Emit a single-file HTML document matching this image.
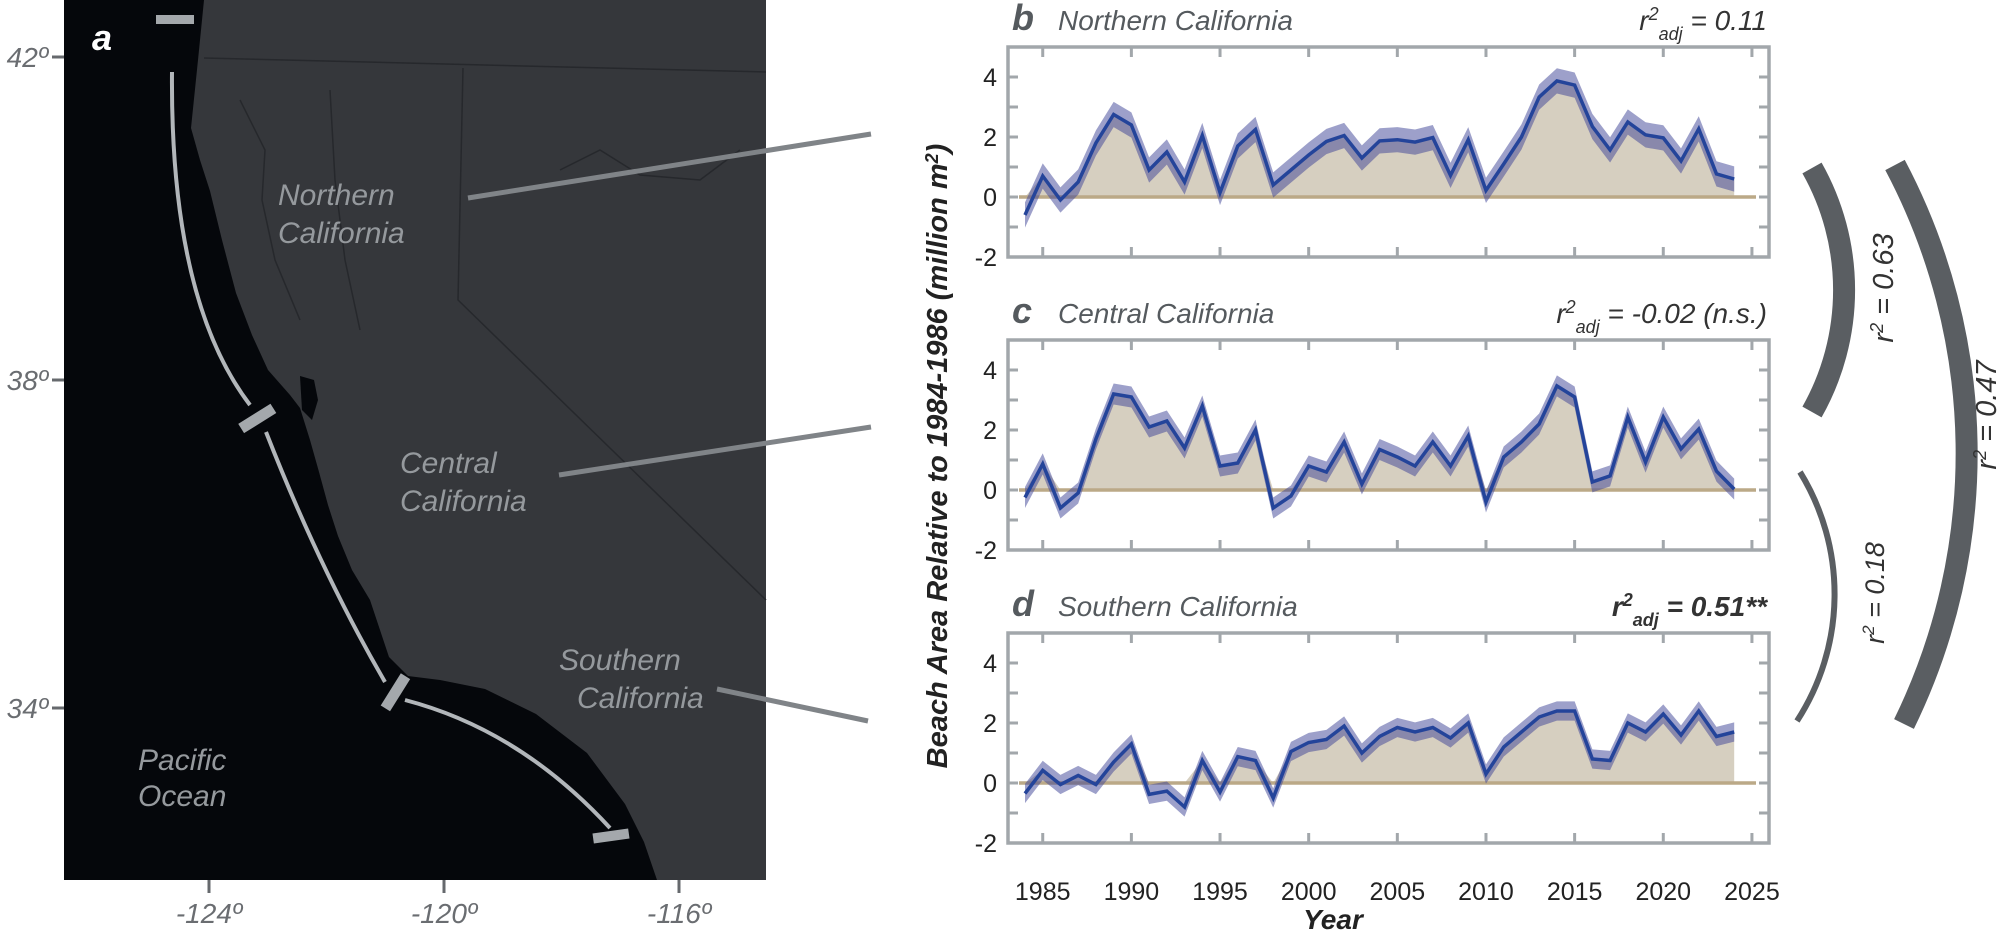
<!DOCTYPE html>
<html><head><meta charset="utf-8"><style>
html,body{margin:0;padding:0;background:#fff;}
svg{display:block;font-family:"Liberation Sans",Arial,sans-serif;}
</style></head><body>
<svg id="s" width="2000" height="931" viewBox="0 0 2000 931" xmlns="http://www.w3.org/2000/svg">
<!-- MAP -->
<rect x="64" y="0" width="702" height="880" fill="#05070b"/>
<path d="M204,0 L198,60 L191,128 L200,160 L210,191 L222,240 L236,293 L252,335 L268,370 L290,395 L300,408 L310,440 L319,472 L328,505 L338,536 L352,570 L370,600 L380,630 L389,657 L408,676 L440,680 L485,689 L536,714 L587,753 L625,804 L644,842 L657,880 L766,880 L766,0 Z" fill="#35373b"/>
<path d="M300,376 L314,380 L318,400 L312,420 L302,410 Z" fill="#05070b"/>
<g fill="none" stroke="#26282c" stroke-width="1.5">
<path d="M204,58 L766,72"/><path d="M463,68 L458,300 L766,600"/>
<path d="M240,100 L265,150 L262,200 L275,260 L300,320"/>
<path d="M330,90 L335,180 L345,260 L360,330"/>
<path d="M560,170 L600,150 L640,175 L700,180 L740,150"/>
</g>
<text x="92" y="50" font-size="36" font-weight="bold" font-style="italic" fill="#fff">a</text>
<g font-size="30" font-style="italic" fill="#95999d">
<text x="278" y="205">Northern</text><text x="278" y="243">California</text>
<text x="400" y="473">Central</text><text x="400" y="511">California</text>
<text x="559" y="670">Southern</text><text x="577" y="708">California</text>
<text x="138" y="770">Pacific</text><text x="138" y="806">Ocean</text>
</g>
<g fill="none" stroke="#b2b6ba" stroke-width="4">
<path d="M172,72 Q170,300 250,405"/>
<path d="M266,432 Q320,570 385,682"/>
<path d="M405,700 Q520,730 610,828"/>
</g>
<g fill="#a4a8ac">
<rect x="156" y="15" width="38" height="9"/>
<rect x="238" y="413" width="38" height="11" transform="rotate(-32 257 418)"/>
<rect x="376" y="687" width="38" height="11" transform="rotate(-58 395 692)"/>
<rect x="593" y="831" width="36" height="10" transform="rotate(-8 611 836)"/>
</g>
<g stroke="#808488" stroke-width="5">
<line x1="468" y1="198" x2="871" y2="134"/>
<line x1="559" y1="475" x2="871" y2="427"/>
<line x1="717" y1="689" x2="868" y2="721"/>
</g>
<g stroke="#66696d" stroke-width="3">
<line x1="52" y1="57" x2="64" y2="57"/><line x1="52" y1="380" x2="64" y2="380"/><line x1="52" y1="708" x2="64" y2="708"/>
<line x1="209" y1="880" x2="209" y2="893"/><line x1="444" y1="880" x2="444" y2="893"/><line x1="679" y1="880" x2="679" y2="893"/>
</g>
<g font-size="28" font-style="italic" fill="#6a6d71">
<text x="48" y="67" text-anchor="end">42º</text>
<text x="48" y="390" text-anchor="end">38º</text>
<text x="48" y="718" text-anchor="end">34º</text>
<text x="209" y="923" text-anchor="middle">-124º</text>
<text x="444" y="923" text-anchor="middle">-120º</text>
<text x="679" y="923" text-anchor="middle">-116º</text>
</g>
<!-- titles -->
<g fill="#555a5e" font-style="italic">
<text x="1012" y="30" font-size="36" font-weight="bold">b</text>
<text x="1058" y="30" font-size="28">Northern California</text>
<text x="1012" y="323" font-size="36" font-weight="bold">c</text>
<text x="1058" y="323" font-size="28">Central California</text>
<text x="1012" y="616" font-size="36" font-weight="bold">d</text>
<text x="1058" y="616" font-size="28">Southern California</text>
</g>
<g fill="#333" font-style="italic" font-size="28" text-anchor="end">
<text x="1767" y="30">r<tspan dy="-10" font-size="18">2</tspan><tspan dy="20" font-size="18">adj</tspan><tspan dy="-10"> = 0.11</tspan></text>
<text x="1767" y="323">r<tspan dy="-10" font-size="18">2</tspan><tspan dy="20" font-size="18">adj</tspan><tspan dy="-10"> = -0.02 (n.s.)</tspan></text>
<text x="1767" y="616" font-weight="bold">r<tspan dy="-10" font-size="18">2</tspan><tspan dy="20" font-size="18">adj</tspan><tspan dy="-10"> = 0.51**</tspan></text>
</g>
<g id="charts"></g>
<text transform="translate(947,456) rotate(-90)" text-anchor="middle" font-size="29" font-weight="bold" font-style="italic" fill="#222">Beach Area Relative to 1984-1986  (million m<tspan dy="-9" font-size="18">2</tspan><tspan dy="9">)</tspan></text>
<text x="1333" y="929" text-anchor="middle" font-size="28" font-weight="bold" font-style="italic" fill="#222">Year</text>
<!-- arcs -->
<g fill="none" stroke="#5a5e62">
<path d="M1812,168 A248,248 0 0 1 1812,412" stroke-width="22"/>
<path d="M1895,165 A616,616 0 0 1 1904,724" stroke-width="22"/>
<path d="M1800,472 A233,233 0 0 1 1797,721" stroke-width="6"/>
</g>
<g fill="#333" font-style="italic" font-size="29" text-anchor="middle">
<text transform="translate(1893,288) rotate(-90)">r<tspan dy="-10" font-size="18">2</tspan><tspan dy="10"> = 0.63</tspan></text>
<text transform="translate(1996,415) rotate(-90)">r<tspan dy="-10" font-size="18">2</tspan><tspan dy="10"> = 0.47</tspan></text>
<text transform="translate(1884,593) rotate(-90)" font-size="27">r<tspan dy="-10" font-size="17">2</tspan><tspan dy="10"> = 0.18</tspan></text>
</g>
</svg>
<script>
var D=[
[-0.6,0.7,-0.1,0.5,1.8,2.75,2.4,0.9,1.5,0.5,2.05,0.15,1.7,2.25,0.4,0.9,1.4,1.85,2.05,1.3,1.87,1.91,1.83,1.98,0.72,1.91,0.22,1.1,2.0,3.33,3.87,3.73,2.35,1.57,2.5,2.07,1.97,1.2,2.27,0.77,0.6],
[-0.25,0.87,-0.6,-0.1,1.7,3.2,3.1,2.1,2.3,1.4,2.8,0.8,0.9,2.0,-0.6,-0.2,0.8,0.6,1.6,0.2,1.35,1.1,0.8,1.6,0.8,1.8,-0.4,1.1,1.6,2.2,3.47,3.1,0.27,0.47,2.43,0.93,2.43,1.37,2.03,0.63,0.03],
[-0.35,0.42,-0.05,0.25,-0.05,0.7,1.3,-0.38,-0.27,-0.8,0.75,-0.3,0.88,0.75,-0.5,1.05,1.35,1.45,1.9,1.0,1.55,1.85,1.7,1.85,1.5,2.0,0.3,1.2,1.7,2.2,2.4,2.4,0.8,0.75,2.0,1.7,2.3,1.6,2.4,1.55,1.7]];
var W=[0.42,0.35,0.32],T=[47,340,633],h='';
function X(i){return 1025+i*17.73;}
for(var p=0;p<3;p++){var t=T[p];function Y(v){return t+(5-v)*30;}
var d=D[p],n=d.length,fill='M'+X(0)+','+Y(0),up='',lo='',ln='';
for(var i=0;i<n;i++){fill+=' L'+X(i)+','+Y(Math.max(0,d[i]));up+=(i?' L':'M')+X(i)+','+Y(d[i]+W[p]);ln+=(i?' L':'M')+X(i)+','+Y(d[i]);}
for(var i=n-1;i>=0;i--)lo+=' L'+X(i)+','+Y(d[i]-W[p]);
fill+=' L'+X(n-1)+','+Y(0)+'Z';
h+='<path d="'+fill+'" fill="#d6cfc0"/>';
h+='<line x1="1019" y1="'+Y(0)+'" x2="1756" y2="'+Y(0)+'" stroke="#bba987" stroke-width="3.5"/>';
h+='<path d="'+up+lo+'Z" fill="rgba(60,65,150,0.5)"/>';
h+='<path d="'+ln+'" fill="none" stroke="#24449a" stroke-width="3.5" stroke-linejoin="miter"/>';
h+='<rect x="1008" y="'+t+'" width="761" height="210" fill="none" stroke="#a2a7ab" stroke-width="3.5"/>';
for(var v=-1;v<=4;v++){h+='<line x1="1008" y1="'+Y(v)+'" x2="1018" y2="'+Y(v)+'" stroke="#a2a7ab" stroke-width="3"/><line x1="1759" y1="'+Y(v)+'" x2="1769" y2="'+Y(v)+'" stroke="#a2a7ab" stroke-width="3"/>';}
for(var yr=1985;yr<=2025;yr+=5){var x=X(yr-1984);h+='<line x1="'+x+'" y1="'+t+'" x2="'+x+'" y2="'+(t+10)+'" stroke="#a2a7ab" stroke-width="3"/><line x1="'+x+'" y1="'+(t+200)+'" x2="'+x+'" y2="'+(t+210)+'" stroke="#a2a7ab" stroke-width="3"/>';}
[4,2,0,-2].forEach(function(v){h+='<text x="997" y="'+(Y(v)+9)+'" text-anchor="end" font-size="25" fill="#222">'+v+'</text>';});
}
for(var yr=1985;yr<=2025;yr+=5){h+='<text x="'+X(yr-1984)+'" y="900" text-anchor="middle" font-size="25" fill="#222">'+yr+'</text>';}
document.getElementById('charts').innerHTML=h;
</script>
</body></html>
